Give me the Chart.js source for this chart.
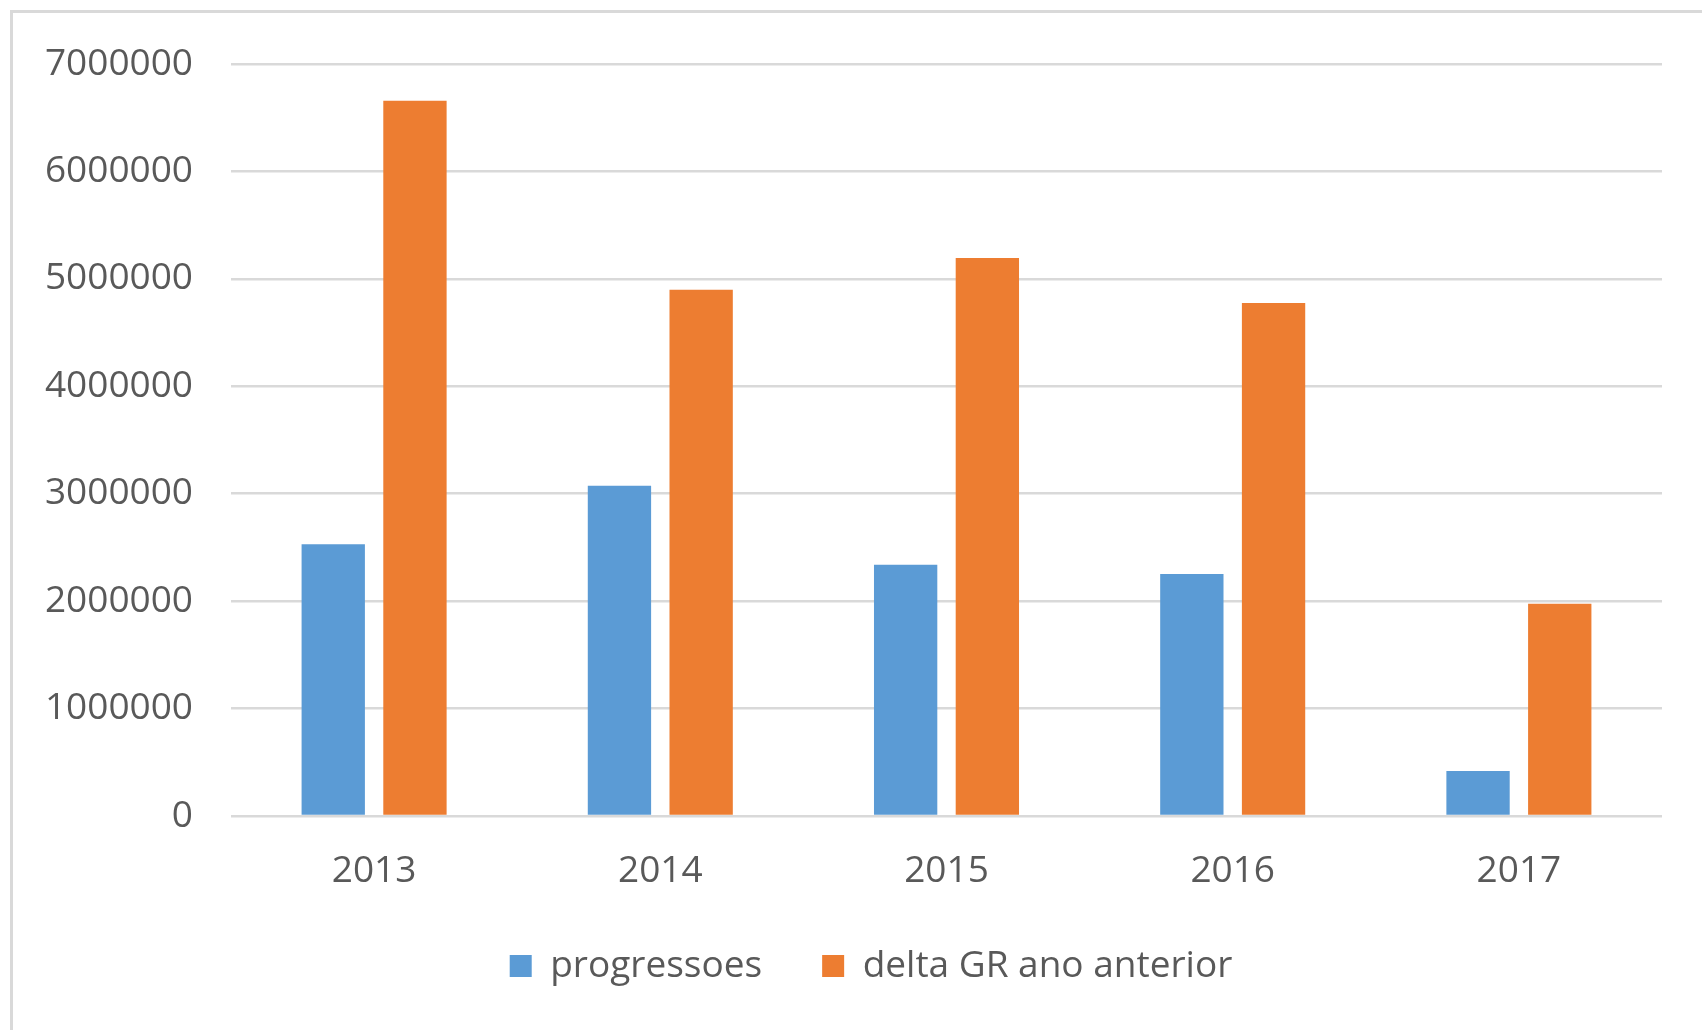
<!DOCTYPE html>
<html>
<head>
<meta charset="utf-8">
<script src="https://cdn.jsdelivr.net/npm/chart.js@4"></script>
<style>
  html, body { margin: 0; padding: 0; background: #fff; overflow: hidden; }
  #frame { position: absolute; left: 10px; top: 10px; width: 1760px; height: 1100px; border: 3px solid #d9d9d9; }
  #wrap { position: absolute; left: 0; top: 0; width: 1702px; height: 1030px; }
</style>
</head>
<body>
<div id="frame"></div>
<div id="wrap"><canvas id="chartContainer"></canvas></div>
<script>
// data
const years = ['2013', '2014', '2015', '2016', '2017'];
const progressoes = [2530000, 3075000, 2338000, 2252000, 420000];
const deltaGR = [6657000, 4899000, 5194000, 4775000, 1975000];
const yTicks = [0, 1000000, 2000000, 3000000, 4000000, 5000000, 6000000, 7000000];

const textColor = '#595959';
const fontFamily = '"Open Sans", "Liberation Sans", sans-serif';

// nudge the legend to the right, like the original sheet
const legendShift = {
    id: 'legendShift',
    afterLayout: function(chart) {
        chart.legend.left += 40;
        chart.legend.right += 40;
    }
};

var ctx = document.getElementById('chartContainer').getContext('2d');

window.myBarChart = new Chart(ctx, {
    type: 'bar',
    data: {
        labels: years,
        datasets: [{
            label: 'progressoes',
            data: progressoes,
            backgroundColor: '#5b9bd5',
            borderWidth: 0
        }, {
            label: 'delta GR ano anterior',
            data: deltaGR,
            backgroundColor: '#ed7d31',
            borderWidth: 0
        }]
    },
    plugins: [legendShift],
    options: {
        responsive: true,
        maintainAspectRatio: false,
        animation: false,
        categoryPercentage: 0.571,
        barPercentage: 0.775,
        layout: {
            // y tick padding already reserves ~60px on top, so this must be bigger
            padding: { top: 64, right: 40, bottom: 42.5, left: 0 }
        },
        scales: {
            x: {
                grid: { display: false },
                border: { display: false },
                ticks: {
                    color: textColor,
                    font: { family: fontFamily, size: 37 },
                    padding: 25
                },
                afterFit: function(scale) { scale.height = 71.5; }
            },
            y: {
                min: 0,
                max: 7000000,
                afterBuildTicks: function(scale) {
                    scale.ticks = yTicks.map(v => ({ value: v }));
                },
                grid: { color: '#d9d9d9', lineWidth: 2.5, drawTicks: false },
                border: { display: false },
                ticks: {
                    color: textColor,
                    font: { family: fontFamily, size: 37 },
                    padding: 38,
                    callback: function(value) { return String(value); }
                },
                afterFit: function(scale) { scale.width = 231; }
            }
        },
        plugins: {
            legend: {
                position: 'bottom',
                maxHeight: 100,
                labels: {
                    color: textColor,
                    font: { family: fontFamily, size: 37 },
                    boxWidth: 22,
                    boxHeight: 22,
                    padding: 60
                }
            },
            tooltip: { enabled: false }
        }
    }
});
</script>
</body>
</html>
